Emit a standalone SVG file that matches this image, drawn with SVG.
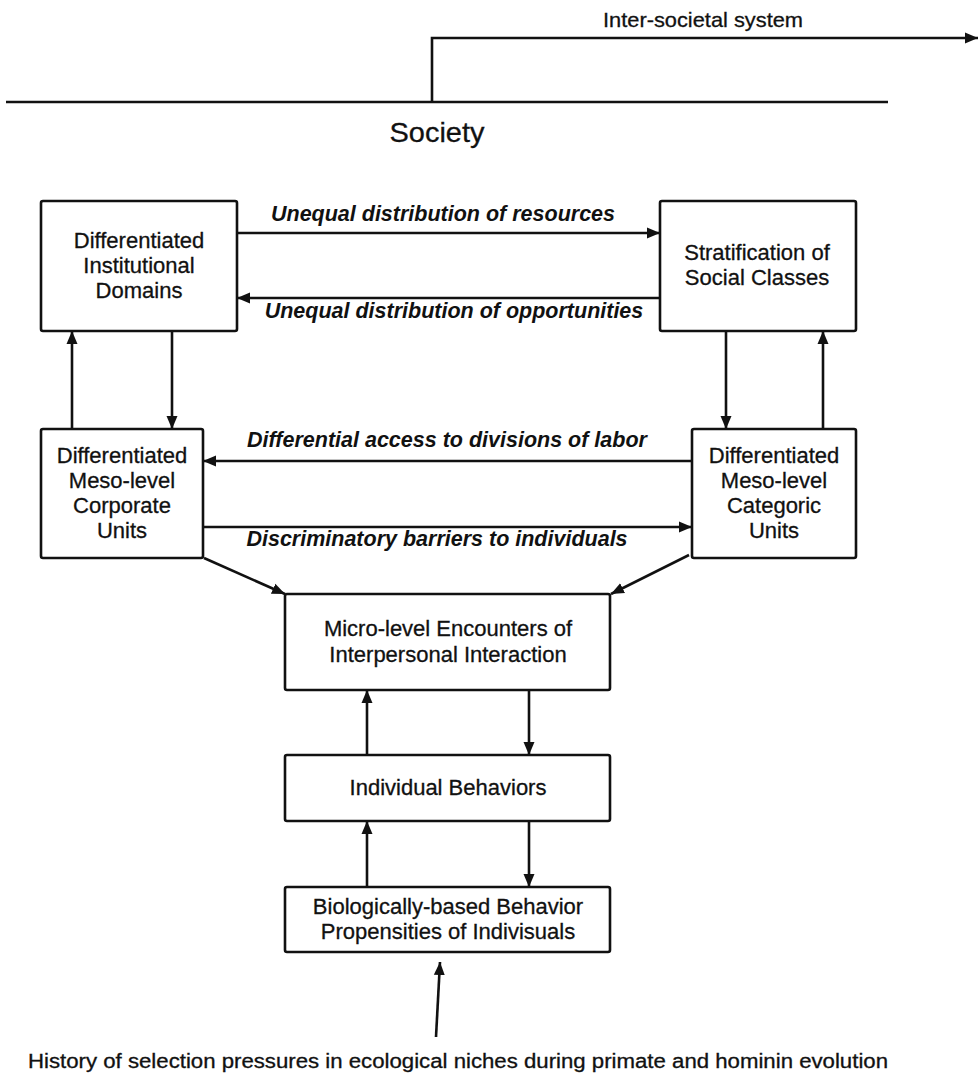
<svg xmlns="http://www.w3.org/2000/svg" width="980" height="1076" viewBox="0 0 980 1076">
  <style>
    .box { fill: #ffffff; stroke: #111111; stroke-width: 2.6; }
    .lbl { font-family: "Liberation Sans", Arial, sans-serif; font-size: 22px; fill: #111111; stroke: #111111; stroke-width: 0.3; text-anchor: middle; }
    .flow { font-family: "Liberation Sans", Arial, sans-serif; font-size: 21.5px; font-weight: bold; font-style: italic; fill: #111111; text-anchor: middle; }
    .edge { fill: none; stroke: #111111; stroke-width: 2.6; marker-end: url(#arrow); }
    .plain { fill: none; stroke: #111111; stroke-width: 2.6; }
  </style>
  <defs>
    <marker id="arrow" markerUnits="userSpaceOnUse" markerWidth="14" markerHeight="12" refX="13" refY="6" orient="auto">
      <path d="M0,0.5 L13,6 L0,11.5 z" fill="#111111"/>
    </marker>
  </defs>
  <rect width="980" height="1076" fill="#ffffff"/>

  <!-- scale labels -->
  <text class="lbl" x="703" y="27" style="font-size:21px" textLength="200" lengthAdjust="spacingAndGlyphs">Inter-societal system</text>
  <text class="lbl" x="437" y="142" style="font-size:28px" textLength="95" lengthAdjust="spacingAndGlyphs">Society</text>

  <g id="connectors">
    <path class="plain" d="M6,102 H888"/>
    <path class="edge" d="M432,102 V38 H978"/>
    <path class="edge" d="M237,233 H660"/>
    <path class="edge" d="M660,298 H237"/>
    <path class="edge" d="M72,429 V331"/>
    <path class="edge" d="M172,331 V429"/>
    <path class="edge" d="M726,331 V429"/>
    <path class="edge" d="M823,429 V331"/>
    <path class="edge" d="M692,461 H203"/>
    <path class="edge" d="M203,527 H692"/>
    <path class="edge" d="M204,558 L285,594"/>
    <path class="edge" d="M689,555 L611,594"/>
    <path class="edge" d="M367,755 V690"/>
    <path class="edge" d="M529,690 V755"/>
    <path class="edge" d="M367,887 V821"/>
    <path class="edge" d="M529,821 V887"/>
    <path class="edge" d="M436,1037 L440,962"/>
    <text class="flow" x="443" y="221">Unequal distribution of resources</text>
    <text class="flow" x="454" y="318">Unequal distribution of opportunities</text>
    <text class="flow" x="447" y="447">Differential access to divisions of labor</text>
    <text class="flow" x="437" y="546">Discriminatory barriers to individuals</text>
  </g>

  <g id="institutional-domains">
    <rect class="box" x="41" y="201" width="196" height="130" rx="2"/>
    <text class="lbl" x="139" y="248">Differentiated</text>
    <text class="lbl" x="139" y="273">Institutional</text>
    <text class="lbl" x="139" y="298">Domains</text>
  </g>

  <g id="social-classes">
    <rect class="box" x="660" y="201" width="196" height="130" rx="2"/>
    <text class="lbl" x="757" y="260">Stratification of</text>
    <text class="lbl" x="757" y="285">Social Classes</text>
  </g>

  <g id="corporate-units">
    <rect class="box" x="41" y="429" width="162" height="129" rx="2"/>
    <text class="lbl" x="122" y="463">Differentiated</text>
    <text class="lbl" x="122" y="488">Meso-level</text>
    <text class="lbl" x="122" y="513">Corporate</text>
    <text class="lbl" x="122" y="538">Units</text>
  </g>

  <g id="categoric-units">
    <rect class="box" x="692" y="429" width="164" height="129" rx="2"/>
    <text class="lbl" x="774" y="463">Differentiated</text>
    <text class="lbl" x="774" y="488">Meso-level</text>
    <text class="lbl" x="774" y="513">Categoric</text>
    <text class="lbl" x="774" y="538">Units</text>
  </g>

  <g id="micro-encounters">
    <rect class="box" x="285" y="594" width="325" height="96" rx="2"/>
    <text class="lbl" x="448" y="636">Micro-level Encounters of</text>
    <text class="lbl" x="448" y="662">Interpersonal Interaction</text>
  </g>

  <g id="individual-behaviors">
    <rect class="box" x="285" y="755" width="325" height="66" rx="2"/>
    <text class="lbl" x="448" y="795">Individual Behaviors</text>
  </g>

  <g id="biological-propensities">
    <rect class="box" x="285" y="887" width="325" height="65" rx="2"/>
    <text class="lbl" x="448" y="914">Biologically-based Behavior</text>
    <text class="lbl" x="448" y="939">Propensities of Indivisuals</text>
  </g>

  <g id="selection-history">
    <text class="lbl" x="458" y="1068" style="font-size:19.5px" textLength="860" lengthAdjust="spacingAndGlyphs">History of selection pressures in ecological niches during primate and hominin evolution</text>
  </g>
</svg>
